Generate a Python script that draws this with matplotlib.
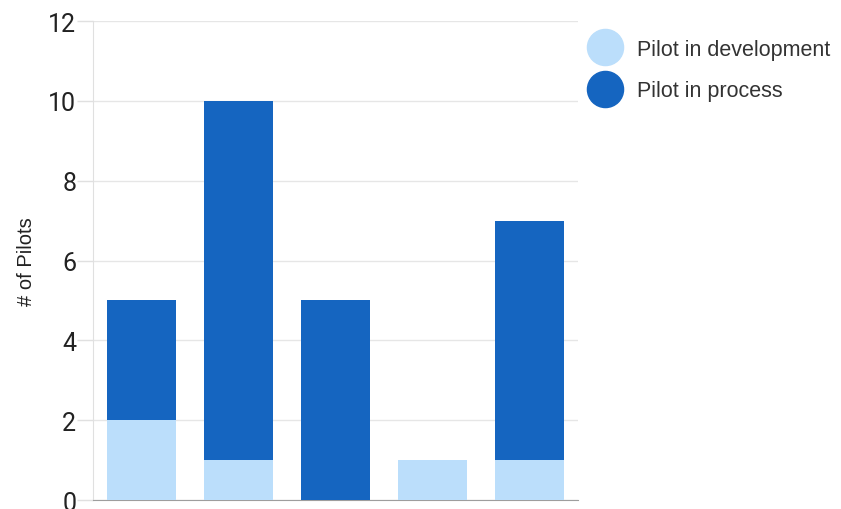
import matplotlib.pyplot as plt
from matplotlib.lines import Line2D

plt.rcParams['font.family'] = ['Roboto', 'DejaVu Sans']

categories = ['A', 'B', 'C', 'D', 'E']
pilot_dev = [2, 1, 0, 1, 1]
pilot_process = [3, 9, 5, 0, 6]
labels = ['Pilot in development', 'Pilot in process']
colors = ['#BBDEFB', '#1565C0']


def main():
    fig = plt.figure(figsize=(8.41, 5.10), dpi=100)
    ax = fig.add_axes([0.1106, 0.0176, 0.5767, 0.9392])

    x = list(range(len(categories)))
    ax.bar(x, pilot_dev, width=0.72, color=colors[0], zorder=3)
    ax.bar(x, pilot_process, width=0.72, bottom=pilot_dev, color=colors[1], zorder=3)

    ax.set_xlim(-0.5, len(categories) - 0.5)
    ax.set_ylim(0, 12)
    ax.set_yticks([0, 2, 4, 6, 8, 10, 12])
    ax.set_xticks([])
    ax.tick_params(axis='y', labelsize=18, colors='#e0e0e0', labelcolor='#222222',
                   length=11.5, width=1, pad=0.5)
    ax.grid(axis='y', color='#e6e6e6', linewidth=1, zorder=0)
    ax.set_ylabel('# of Pilots', fontsize=14.5, color='#222222', labelpad=9,
                  family=['Liberation Sans', 'DejaVu Sans'])

    for side in ['top', 'right']:
        ax.spines[side].set_visible(False)
    ax.spines['left'].set_color('#e0e0e0')
    ax.spines['bottom'].set_color('#9e9e9e')

    handles = [Line2D([0], [0], marker='o', linestyle='none', markersize=26,
                      markerfacecolor=c, markeredgecolor=c) for c in colors]
    fig.legend(handles, labels, loc='upper left', bbox_to_anchor=(0.6837, 0.939),
               frameon=False, handletextpad=0.49, labelspacing=0.95,
               labelcolor='#333333', borderaxespad=0,
               prop={'family': ['Liberation Sans', 'DejaVu Sans'], 'size': 15.5})

    fig.savefig('out.png', dpi=100)


if __name__ == '__main__':
    main()
